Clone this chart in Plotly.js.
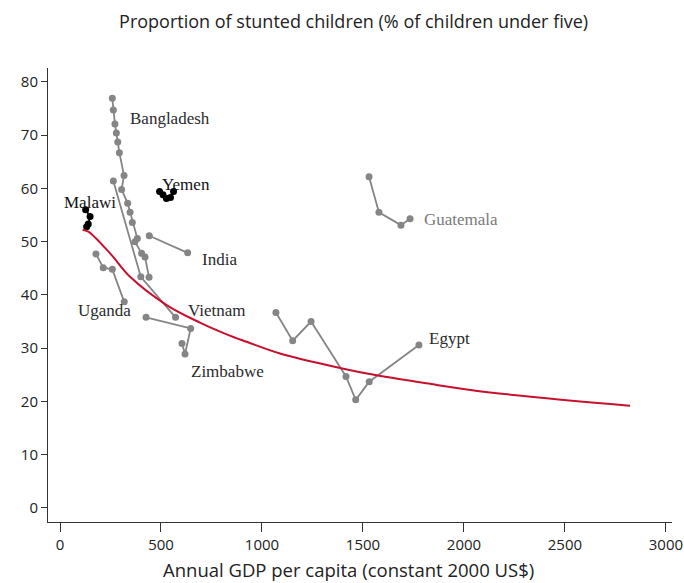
<!DOCTYPE html>
<html>
<head>
<meta charset="utf-8">
<script src="https://cdn.plot.ly/plotly-3.0.1.min.js"></script>
<style>html,body{margin:0;padding:0;background:#fff;}#chart{width:684px;height:583px;}</style>
</head>
<body>
<div id="chart"></div>
<script>
// GDP per capita (x) and stunting % (y) by country
const bangladeshX = [259, 264, 272, 279, 286, 294, 317, 305, 335, 347, 358, 383, 371, 404, 421, 441];
const bangladeshY = [76.9, 74.7, 72.1, 70.4, 68.7, 66.7, 62.4, 59.8, 57.2, 55.5, 53.6, 50.6, 50.0, 47.8, 47.1, 43.3];
const vietnamX = [264, 400, 572];
const vietnamY = [61.4, 43.4, 35.8];
const indiaX = [442, 632];
const indiaY = [51.1, 47.9];
const ugandaX = [178, 214, 259, 318];
const ugandaY = [47.7, 45.1, 44.8, 38.7];
const zimbabweX = [426, 647, 619, 604];
const zimbabweY = [35.8, 33.7, 28.9, 30.9];
const guatemalaX = [1530, 1579, 1688, 1733];
const guatemalaY = [62.2, 55.5, 53.1, 54.3];
const egyptX = [1069, 1152, 1243, 1416, 1464, 1531, 1777];
const egyptY = [36.7, 31.4, 35.0, 24.7, 20.3, 23.7, 30.6];
const malawiX = [127, 149, 140, 132];
const malawiY = [56.0, 54.7, 53.3, 52.8];
const yemenX = [493, 510, 527, 547, 562];
const yemenY = [59.4, 58.8, 58.1, 58.3, 59.4];
// fitted curve
const fitX = [112, 140, 248, 347, 528, 693, 825, 924, 1089, 1386, 1568, 1815, 2129, 2822];
const fitY = [52.2, 51.9, 47.8, 43.4, 38.1, 34.8, 32.6, 31.2, 29.0, 26.3, 24.9, 23.4, 21.7, 19.2];
// labels
const labelText = ["Bangladesh", "Yemen", "Malawi", "India", "Uganda", "Vietnam", "Zimbabwe", "Egypt", "Guatemala"];
const labelX = [337, 495, 10, 693, 79, 624, 639, 1817, 1792];
const labelY = [73.1, 60.8, 57.3, 46.6, 37.0, 37.0, 25.7, 31.9, 54.1];
const labelColor = ["#2a2a2a", "#111", "#111", "#2a2a2a", "#2a2a2a", "#2a2a2a", "#2a2a2a", "#2a2a2a", "#7a7a7a"];

const xTicks = [0, 500, 1000, 1500, 2000, 2500, 3000];
const yTicks = [0, 10, 20, 30, 40, 50, 60, 70, 80];

const gray = "#858585";
function series(x, y, color) {
  return {x: x, y: y, type: "scatter", mode: "lines+markers",
    line: {color: color, width: 1.8}, marker: {color: color, size: 7},
    hoverinfo: "skip", showlegend: false};
}
const traces = [
  series(bangladeshX, bangladeshY, gray),
  series(vietnamX, vietnamY, gray),
  series(indiaX, indiaY, gray),
  series(ugandaX, ugandaY, gray),
  series(zimbabweX, zimbabweY, gray),
  series(guatemalaX, guatemalaY, gray),
  series(egyptX, egyptY, gray),
  series(malawiX, malawiY, "#000"),
  series(yemenX, yemenY, "#000"),
  {x: fitX, y: fitY, type: "scatter", mode: "lines", line: {color: "#c8102e", width: 2, shape: "spline", smoothing: 1},
   hoverinfo: "skip", showlegend: false}
];

const annotations = labelText.map((t, i) => ({
  x: labelX[i], y: labelY[i], xref: "x", yref: "y", text: t, showarrow: false,
  xanchor: "left", yanchor: "middle",
  font: {family: "Liberation Serif, Times New Roman, serif", size: 17, color: labelColor[i]}
}));
// x-axis title (placed slightly left of plot centre, as in the reference)
annotations.push({
  text: "Annual GDP per capita (constant 2000 US$)", xref: "paper", yref: "paper",
  x: 0.482, y: -0.1057, xanchor: "center", yanchor: "middle", showarrow: false,
  font: {family: "Open Sans, sans-serif", size: 18.5, color: "#222"}
});

const layout = {
  width: 684, height: 583,
  margin: {l: 48, r: 12, t: 68, b: 61},
  paper_bgcolor: "#fff", plot_bgcolor: "#fff",
  font: {family: "Open Sans, sans-serif", size: 15, color: "#222"},
  title: {text: "Proportion of stunted children (% of children under five)",
    font: {family: "Open Sans, sans-serif", size: 18, color: "#222"}, x: 0.517, xanchor: "center", y: 0.962, yanchor: "middle"},
  xaxis: {range: [-59.4, 3030], tickvals: xTicks, ticktext: xTicks.map(String),
    showgrid: false, zeroline: false, showline: true, linecolor: "#333", linewidth: 1,
    ticks: "outside", ticklen: 9, tickcolor: "#333", tickfont: {size: 15, color: "#222"}},
  yaxis: {range: [-2.63, 82.6], tickvals: yTicks, ticktext: yTicks.map(String),
    showgrid: false, zeroline: false, showline: true, linecolor: "#333", linewidth: 1,
    ticks: "outside", ticklen: 6, tickcolor: "#333", tickfont: {size: 15, color: "#222"}},
  annotations: annotations
};

Plotly.newPlot("chart", traces, layout, {displayModeBar: false, staticPlot: true});
</script>
</body>
</html>
